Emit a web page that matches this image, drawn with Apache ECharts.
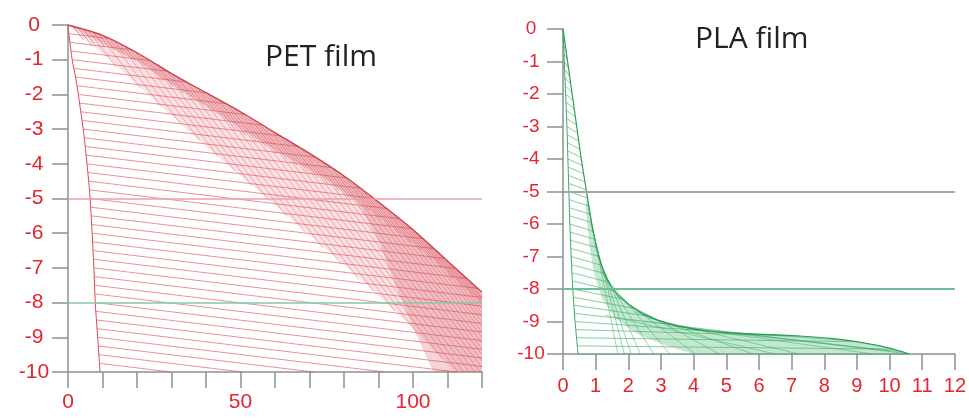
<!DOCTYPE html>
<html><head><meta charset="utf-8">
<script src="https://cdn.jsdelivr.net/npm/echarts@6/dist/echarts.min.js"></script>
<style>html,body{margin:0;padding:0;background:#fff}#c{width:969px;height:418px}</style>
</head><body><div id="c"></div>
<script>
// ---------- tick labels ----------
const petXLabels = [0, 50, 100];
const plaXLabels = [0,1,2,3,4,5,6,7,8,9,10,11,12];
const refLevels = [-5, -8];
const titles = ['PET film', 'PLA film'];

// ---------- PET film ----------
const petLeftCurve = [[0,0],[0.25,-0.25],[0.55,-0.5],[1.2,-1],[2.2,-1.5],[3.0,-2],[3.7,-2.5],[4.4,-3],[5.0,-3.5],[5.5,-4],[6.0,-4.5],[6.4,-5],[7.0,-6],[7.5,-7],[7.9,-8],[8.6,-9],[9.3,-10]];
const petRightCurve = [[0,0],[10,-0.3],[20,-0.8],[30,-1.4],[40,-1.95],[50,-2.5],[60,-3.1],[70,-3.7],[80,-4.35],[90,-5.1],[100,-5.9],[110,-6.8],[120,-7.7]];
const petInnerCurve = [[0,0],[12.2,-1.0],[26.7,-2.31],[41.2,-3.6],[55.7,-4.81],[70.1,-6.05],[84.6,-7.29],[99.1,-8.65],[112.2,-10]];
const petMidCurve = [[0,0],[20,-1.05],[40,-2.35],[60,-3.6],[75,-4.45],[84,-5.1],[90,-6.2],[95.4,-7.6],[100,-8.7],[104,-9.6],[106,-10]];
const petShallow = [
[0.25,-0.25,11.8,-0.389],[0.55,-0.5,18.2,-0.712],[0.9,-0.75,23.7,-1.024],[1.2,-1,28.9,-1.332],
[1.7,-1.25,34.4,-1.642],[2.2,-1.5,40.1,-1.955],[2.6,-1.75,45.8,-2.268],[3.0,-2,51.3,-2.58],
[3.35,-2.25,56.5,-2.888],[3.7,-2.5,61.6,-3.195],[4.05,-2.75,66.7,-3.502],[4.4,-3,71.6,-3.806],
[4.7,-3.25,76.3,-4.109],[5.0,-3.5,80.8,-4.41],[5.25,-3.75,84.7,-4.703],[5.5,-4,88.6,-4.997],
[5.75,-4.25,92.4,-5.29],[6.0,-4.5,96.0,-5.58],[6.2,-4.75,99.6,-5.871],[6.4,-5,102.9,-6.158],
[6.55,-5.25,106.0,-6.443],[6.7,-5.5,109.2,-6.73],[6.85,-5.75,112.4,-7.017],[7.0,-6,115.6,-7.303],
[7.1,-6.25,118.8,-7.59],[7.25,-6.5,120,-7.853],[7.4,-6.75,120,-8.101],[7.5,-7,120,-8.35],
[7.6,-7.25,120,-8.599],[7.7,-7.5,120,-8.848],[7.8,-7.75,120,-9.096],[7.9,-8,120,-9.345],
[8.05,-8.25,120,-9.593],[8.2,-8.5,120,-9.842],[8.4,-8.75,112.6,-10],[8.6,-9,91.9,-10],
[8.75,-9.25,71.25,-10],[8.95,-9.5,50.6,-10],[9.1,-9.75,29.9,-10]];
const petSteep = [
[3,-0.09,6.98,-0.607],[6,-0.18,13.95,-1.214],[9,-0.27,20.93,-1.821],[12,-0.4,26.98,-2.347],
[15,-0.55,32.56,-2.833],[18,-0.7,38.14,-3.318],[21,-0.86,43.49,-3.784],[24,-1.04,48.37,-4.208],
[27,-1.22,53.26,-4.633],[30,-1.4,58.14,-5.058],[33,-1.565,63.37,-5.513],[36,-1.73,68.6,-5.968],
[39,-1.895,73.84,-6.424],[42,-2.06,79.07,-6.879],[45,-2.225,84.3,-7.334],[48,-2.39,88.6,-7.67],
[51,-2.56,94.7,-8.24],[54,-2.74,100.85,-8.83],[57,-2.92,108.6,-9.63],[60,-3.1,113.1,-10],
[63,-3.28,114.7,-10],[66,-3.46,116.3,-10],[69,-3.64,117.9,-10],[72,-3.83,119.5,-10],
[75,-4.025,120,-9.875],[78,-4.22,120,-9.68],[81,-4.425,120,-9.495],[84,-4.65,120,-9.33],
[87,-4.875,120,-9.165],[90,-5.1,120,-9.0],[93,-5.34,120,-8.85],[96,-5.58,120,-8.7],
[99,-5.82,120,-8.55],[102,-6.08,120,-8.42],[105,-6.35,120,-8.3],[108,-6.62,120,-8.18],
[111,-6.89,120,-8.06],[114,-7.16,120,-7.94],[117,-7.43,120,-7.82]];
const petDense = [
[1.5,-0.045,4.5,-0.435],[4.5,-0.135,7.5,-0.525],[7.5,-0.225,10.5,-0.615],[10.5,-0.325,13.5,-0.715],
[13.5,-0.475,16.5,-0.865],[16.5,-0.625,19.5,-1.015],[19.5,-0.775,22.5,-1.165],[22.5,-0.95,27.5,-1.6],
[25.5,-1.13,30.5,-1.78],[28.5,-1.31,33.5,-1.96],[31.5,-1.4825,36.5,-2.1325],[34.5,-1.6475,39.5,-2.2975],
[37.5,-1.8125,42.5,-2.4625],[40.5,-1.9775,48.5,-3.0175],[43.5,-2.1425,51.5,-3.1825],[46.5,-2.3075,54.5,-3.3475],
[49.5,-2.4725,57.5,-3.5125],[52.5,-2.65,60.5,-3.69],[55.5,-2.83,63.5,-3.87],[58.5,-3.01,66.5,-4.05],
[61.5,-3.19,69.5,-4.23],[64.5,-3.37,72.5,-4.41],[67.5,-3.55,75.5,-4.59],[70.5,-3.7325,78.5,-4.7725],
[73.5,-3.9275,81.5,-4.9675],[76.5,-4.1225,84.5,-5.1625],[79.5,-4.3175,87.5,-5.3575],[82.5,-4.5375,90.5,-5.5775],
[85.5,-4.7625,93.5,-5.8025],[88.5,-4.9875,96.5,-6.0275],[91.5,-5.22,99.5,-6.26],[94.5,-5.46,102.5,-6.5],
[97.5,-5.7,105.5,-6.74],[100.5,-5.945,108.5,-6.985],[103.5,-6.215,111.5,-7.255],[106.5,-6.485,114.5,-7.525],
[109.5,-6.755,117.5,-7.795],[112.5,-7.025,120,-8.0],[115.5,-7.295,120,-7.88]];

// ---------- PLA film ----------
const plaLeftCurve = [[0,0],[0.04,-1],[0.08,-2],[0.12,-3],[0.15,-4],[0.18,-5],[0.21,-6],[0.25,-7],[0.3,-8],[0.37,-9],[0.46,-10]];
const plaRightCurve = [[0,0],[0.14,-1],[0.28,-2],[0.42,-3],[0.56,-4],[0.72,-5],[0.92,-6.2],[1.19,-7.3],[1.53,-8],[2.26,-8.65],[3.18,-9.05],[4.5,-9.3],[5.8,-9.38],[7.0,-9.43],[8.2,-9.52],[9.2,-9.66],[10,-9.82],[10.6,-10]];
const plaInnerCurve = [[0.7,-5.5],[0.8,-6.6],[0.95,-7.5],[1.2,-8.3],[1.6,-8.9],[2.3,-9.4],[3.2,-9.75],[4.0,-10]];
const plaRungs = [
[0.01,-0.25,0.063,-0.45],[0.02,-0.5,0.098,-0.7],[0.03,-0.75,0.133,-0.95],[0.04,-1.0,0.168,-1.2],
[0.05,-1.25,0.203,-1.45],[0.06,-1.5,0.238,-1.7],[0.07,-1.75,0.273,-1.95],[0.08,-2.0,0.308,-2.2],
[0.09,-2.25,0.343,-2.45],[0.10,-2.5,0.378,-2.7],[0.11,-2.75,0.413,-2.95],[0.12,-3.0,0.448,-3.2],
[0.128,-3.25,0.483,-3.45],[0.135,-3.5,0.518,-3.7],[0.143,-3.75,0.553,-3.95],[0.15,-4.0,0.592,-4.2],
[0.158,-4.25,0.632,-4.45],[0.165,-4.5,0.672,-4.7],[0.173,-4.75,0.712,-4.95],[0.18,-5.0,0.753,-5.2],
[0.188,-5.25,0.795,-5.45],[0.195,-5.5,0.837,-5.7],[0.203,-5.75,0.878,-5.95],[0.21,-6.0,0.925,-6.22],
[0.22,-6.25,0.986,-6.47],[0.23,-6.5,1.05,-6.73],[0.24,-6.75,1.116,-7.0],[0.25,-7.0,1.183,-7.27],
[0.263,-7.25,1.302,-7.53],[0.275,-7.5,1.433,-7.8],[0.288,-7.75,1.609,-8.07],[0.30,-8.0,1.9,-8.33],
[0.318,-8.25,2.204,-8.6],[0.335,-8.5,2.72,-8.85],[0.353,-8.75,3.444,-9.1],[0.37,-9.0,4.5,-9.3],
[0.393,-9.25,7.27,-9.45],[0.415,-9.5,8.91,-9.62],[0.438,-9.75,10.1,-9.85],[0.46,-10,10.6,-10]];
const plaTangents = [
[0.76,-5.4,1.68,-10],[0.85,-5.97,1.88,-10],[0.95,-6.58,2.09,-10],[1.05,-6.96,2.37,-10],
[1.15,-7.39,2.78,-10],[1.35,-7.7,3.27,-10],[1.6,-8.155,4.06,-10],[1.9,-8.41,4.79,-10],
[2.2,-8.70,5.82,-10],[2.6,-8.89,7.22,-10],[3.2,-9.12,9.5,-10],[3.8,-9.24,8.7,-9.585],
[2.5,-9.0,10.6,-10],[3.5,-9.15,10.0,-9.9],[4.5,-9.3,10.3,-9.93],[1.3,-8.8,6.5,-10]];

// ---------- styles ----------
const AX = '#8b9191';
const RED = '#e3262e';
const PET_C = '#d94a55';
const PLA_C = '#3aaa66';
const FONT = 'Liberation Sans';

function segs(arr) { return arr.map(s => ({ coords: [[s[0], s[1]], [s[2], s[3]]] })); }
function hatch(arr, idx, color, w, op) {
  return { type: 'lines', coordinateSystem: 'cartesian2d', xAxisIndex: idx, yAxisIndex: idx, z: 3,
    polyline: false, silent: true, data: segs(arr),
    lineStyle: { color: color, width: w, opacity: op, curveness: 0 }, effect: { show: false } };
}
function curve(pts, idx, color, w) {
  return { type: 'line', xAxisIndex: idx, yAxisIndex: idx, data: pts, smooth: 0.3, showSymbol: false, z: 4,
    silent: true, lineStyle: { color: color, width: w } };
}
function band(poly, idx, fill) {
  return { type: 'custom', coordinateSystem: 'cartesian2d', xAxisIndex: idx, yAxisIndex: idx, z: 1,
    silent: true, data: [0],
    renderItem: (params, api) => ({ type: 'polygon', shape: { points: poly.map(p => api.coord(p)) },
      style: { fill: fill, stroke: null } }) };
}
function yAxisOpt(idx, fs, margin) {
  return { gridIndex: idx, type: 'value', min: -10, max: 0, interval: 1,
    axisLine: { show: true, onZero: false, lineStyle: { color: AX, width: 1.5 } },
    axisTick: { show: true, length: 16, lineStyle: { color: AX, width: 1.5 } },
    splitLine: { show: false },
    axisLabel: { color: RED, fontSize: fs, fontFamily: FONT, margin: margin, align: 'center' } };
}
function refLines(colors, w) {
  return { silent: true, symbol: ['none', 'none'], label: { show: false }, animation: false,
    data: refLevels.map((v, i) => ({ yAxis: v, lineStyle: { color: colors[i], width: w, type: 'solid' } })) };
}

// band polygons built from the boundary arrays
const petBandPoly = petRightCurve.concat([[120,-10]], petInnerCurve.slice().reverse());
const petDarkPoly = petRightCurve.concat([[120,-10]], petMidCurve.slice().reverse());
const plaBandPoly = plaRightCurve.slice(5).concat(plaInnerCurve.slice().reverse());

const chart = echarts.init(document.getElementById('c'));
const petRight = curve(petRightCurve, 0, '#c8404c', 1.3);
petRight.markLine = refLines(['#eaa0a6', '#86c9aa'], 1.5);
const plaRight = curve(plaRightCurve, 1, '#2f9a58', 1.2);
plaRight.markLine = refLines(['#a6a6a6', '#70bd98'], 1.8);

chart.setOption({
  animation: false,
  title: [
    { text: titles[0], left: 265, top: 42, padding: 0, textStyle: { fontSize: 30, fontWeight: 'normal', color: '#222', fontFamily: 'Open Sans' } },
    { text: titles[1], left: 695, top: 24, padding: 0, textStyle: { fontSize: 30, fontWeight: 'normal', color: '#222', fontFamily: 'Open Sans' } }
  ],
  grid: [
    { left: 68, top: 25, width: 414, height: 347 },
    { left: 563, top: 29, width: 393, height: 325 }
  ],
  xAxis: [
    { gridIndex: 0, type: 'value', min: 0, max: 120, interval: 10,
      axisLine: { onZero: false, lineStyle: { color: AX, width: 1.5 } },
      axisTick: { length: 16, lineStyle: { color: AX, width: 1.5 } },
      splitLine: { show: false },
      axisLabel: { color: RED, fontSize: 21, fontFamily: FONT, margin: 20,
        formatter: v => petXLabels.indexOf(v) >= 0 ? String(v) : '' } },
    { gridIndex: 1, type: 'value', min: 0, max: 12, interval: 1,
      axisLine: { onZero: false, lineStyle: { color: AX, width: 1.5 } },
      axisTick: { length: 16, lineStyle: { color: AX, width: 1.5 } },
      splitLine: { show: false },
      axisLabel: { color: RED, fontSize: 20, fontFamily: FONT, margin: 22,
        formatter: v => plaXLabels.indexOf(v) >= 0 ? String(v) : '' } }
  ],
  yAxis: [ yAxisOpt(0, 21, 34), yAxisOpt(1, 19, 32) ],
  series: [
    band(petBandPoly, 0, 'rgba(228,110,120,0.2)'),
    band(petDarkPoly, 0, 'rgba(205,60,75,0.22)'),
    band(plaBandPoly, 1, 'rgba(60,175,100,0.3)'),
    hatch(petShallow, 0, PET_C, 0.75, 0.8),
    hatch(petSteep, 0, PET_C, 0.6, 0.7),
    hatch(petDense, 0, PET_C, 0.7, 0.8),
    curve(petLeftCurve, 0, PET_C, 1),
    petRight,
    hatch(plaRungs, 1, PLA_C, 0.75, 0.8),
    hatch(plaTangents, 1, PLA_C, 0.65, 0.75),
    curve(plaLeftCurve, 1, PLA_C, 1),
    plaRight
  ]
});
</script>
</body></html>
